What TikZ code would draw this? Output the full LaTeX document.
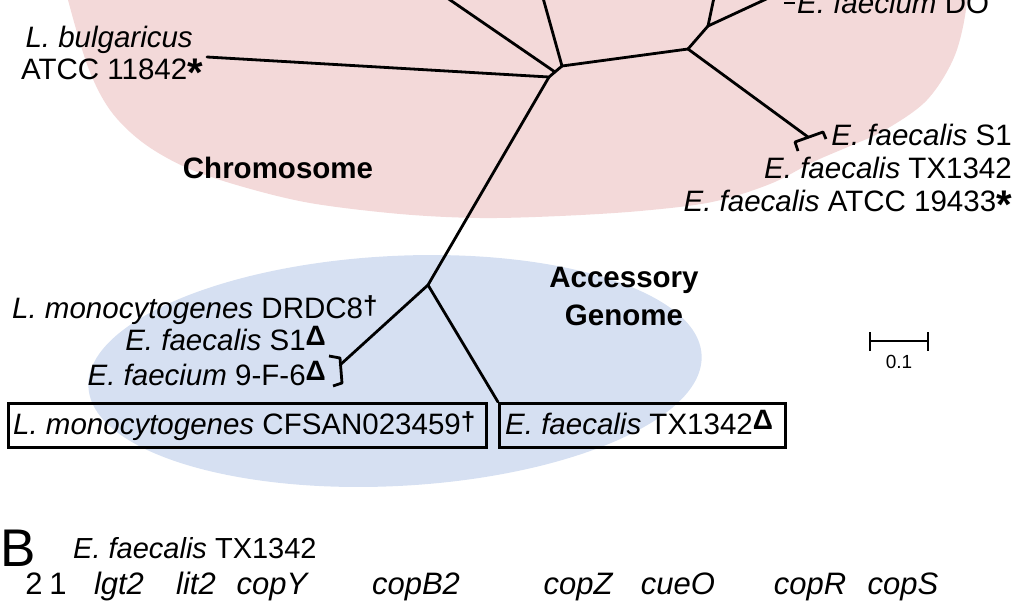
\documentclass[tikz,border=0pt]{standalone}
\usepackage{fontspec}
\setmainfont{Liberation Sans}
\definecolor{pinkbg}{RGB}{243,217,217}
\definecolor{bluebg}{RGB}{214,224,242}
\newcommand{\mydag}{\raisebox{4pt}{\fontsize{26}{26}\selectfont\bfseries †}}
\newcommand{\mytri}{\raisebox{5pt}{\fontsize{28}{28}\selectfont\bfseries Δ}}
\newcommand{\myast}{\raisebox{-7pt}{\fontsize{40}{40}\selectfont\bfseries *}}
\begin{document}
\begin{tikzpicture}[x=1pt,y=-1pt,
  lab/.style={inner sep=0pt, font=\fontsize{29.5}{34}\selectfont},
  boldlab/.style={inner sep=0pt, font=\fontsize{29.5}{34}\selectfont\bfseries},
  genelab/.style={inner sep=0pt, font=\fontsize{31}{34}\selectfont\itshape},
  branch/.style={line width=2.8pt, line join=round, line cap=round},
  boxed/.style={draw, line width=2.6pt, inner sep=0pt},
]
\useasboundingbox (0,0) rectangle (1024,600);
\begin{scope}
\clip (0,0) rectangle (1024,600);
% background shapes
\fill[pinkbg] plot[smooth cycle, tension=0.55] coordinates {
  (62,-30) (68,0) (88,67) (110,110) (142,142) (185,167) (240,186) (310,203)
  (400,214) (480,218) (560,216) (640,211) (712,202) (770,184) (813,162)
  (850,146) (885,130) (927,100) (955,55) (967,0) (962,-40) (700,-110) (300,-110)};
\fill[bluebg, rotate around={3:(395,371)}] (395,371) ellipse [x radius=307, y radius=115];

% tree coordinates
\coordinate (Lb) at (207,57);
\coordinate (J1a) at (549,77);
\coordinate (J1b) at (562,66);
\coordinate (Jul) at (555,72);
\coordinate (ULtop) at (421,-20);
\coordinate (Uptop) at (538,-20);
\coordinate (J2) at (688,49);
\coordinate (J4) at (708,26);
\coordinate (J4a) at (716,-12);
\coordinate (J4b) at (790,-12);
\coordinate (S1m) at (808,137);
\coordinate (J3) at (428,285);
\coordinate (LBm) at (340,365);

% boxes
\node[boxed, minimum width=478, minimum height=44, anchor=north west] (box1) at (7,402) {};
\node[boxed, minimum width=286, minimum height=44, anchor=north west] (box2) at (498,402) {};

% branches
\draw[branch] (Lb) -- (J1a) -- (J1b);
\draw[branch] (ULtop) -- (Jul);
\draw[branch] (Uptop) -- (J1b);
\draw[branch] (J1b) -- (J2);
\draw[branch] (J2) -- (J4);
\draw[branch] (J4) -- (J4a);
\draw[branch] (J4) -- (J4b);
\draw[branch] (J2) -- (S1m);
\draw[branch] (J1a) -- (J3);
\draw[branch] (J3) -- (LBm);
\draw[branch] (J3) -- (box2.north west);
% brackets
\draw[branch, line cap=butt] (798,151) -- (795,142) -- (823,132) -- (826,139);
\draw[branch, line cap=butt] (329,356) -- (340,358) -- (342,383) -- (333,386);
\draw[branch, line cap=butt] (784,3) -- (795,3);

% labels
\node[lab, anchor=base west] (dO) at (797,13) {\textit{E. faecium} DO};
\node[lab, anchor=base east] (bulg1) at (193,47) {\textit{L. bulgaricus}};
\node[lab, anchor=base east] (bulg2) at (203,79) {ATCC 11842\myast};
\node[lab, anchor=base east] (s1) at (1012,145) {\textit{E. faecalis} S1};
\node[lab, anchor=base east] (tx) at (1012,178) {\textit{E. faecalis} TX1342};
\node[lab, anchor=base east] (atcc) at (1012,211) {\textit{E. faecalis} ATCC 19433\myast};
\node[boldlab] (chrom) at (278,168) {Chromosome};

\node[lab, anchor=base west] (drdc) at (12,318) {\textit{L. monocytogenes} DRDC8\mydag};
\node[lab, anchor=base east] (s1d) at (326,350) {\textit{E. faecalis} S1\mytri};
\node[lab, anchor=base east] (f96) at (326,385) {\textit{E. faecium} 9-F-6\mytri};
\node[lab, anchor=base west] (cfsan) at (13,434) {\textit{L. monocytogenes} CFSAN023459\mydag};
\node[lab, anchor=base west] (tx2) at (505,434) {\textit{E. faecalis} TX1342\mytri};
\node[boldlab, anchor=base] (acc) at (624,287) {Accessory};
\node[boldlab, anchor=base] (gen) at (624,325) {Genome};

% scale bar
\coordinate (sb1) at (870,341);
\coordinate (sb2) at (928,341);
\draw[line width=2.6pt] (sb1) -- (sb2);
\draw[line width=2.6pt] (870,332) -- (870,351);
\draw[line width=2.6pt] (928,332) -- (928,351);
\node[inner sep=0pt, anchor=base, font=\fontsize{19}{20}\selectfont] (sbl) at (899,368) {0.1};

% panel B
\node[inner sep=0pt, anchor=base west, font=\fontsize{53}{54}\selectfont] (B) at (0,566) {B};
\node[inner sep=0pt, anchor=base west, font=\fontsize{29}{32}\selectfont] (bt) at (73,558) {\textit{E. faecalis} TX1342};
\node[inner sep=0pt, anchor=base, font=\fontsize{31}{34}\selectfont] (g2) at (34,594) {2};
\node[inner sep=0pt, anchor=base, font=\fontsize{31}{34}\selectfont] (g1) at (58,594) {1};
\node[genelab, anchor=base] (lgt) at (119,594) {lgt2};
\node[genelab, anchor=base] (lit) at (196,594) {lit2};
\node[genelab, anchor=base] (copY) at (272,594) {copY};
\node[genelab, anchor=base] (copB) at (416,594) {copB2};
\node[genelab, anchor=base] (copZ) at (578,594) {copZ};
\node[genelab, anchor=base] (cueO) at (678,594) {cueO};
\node[genelab, anchor=base] (copR) at (810,594) {copR};
\node[genelab, anchor=base] (copS) at (903,594) {copS};
\end{scope}
\end{tikzpicture}
\end{document}
